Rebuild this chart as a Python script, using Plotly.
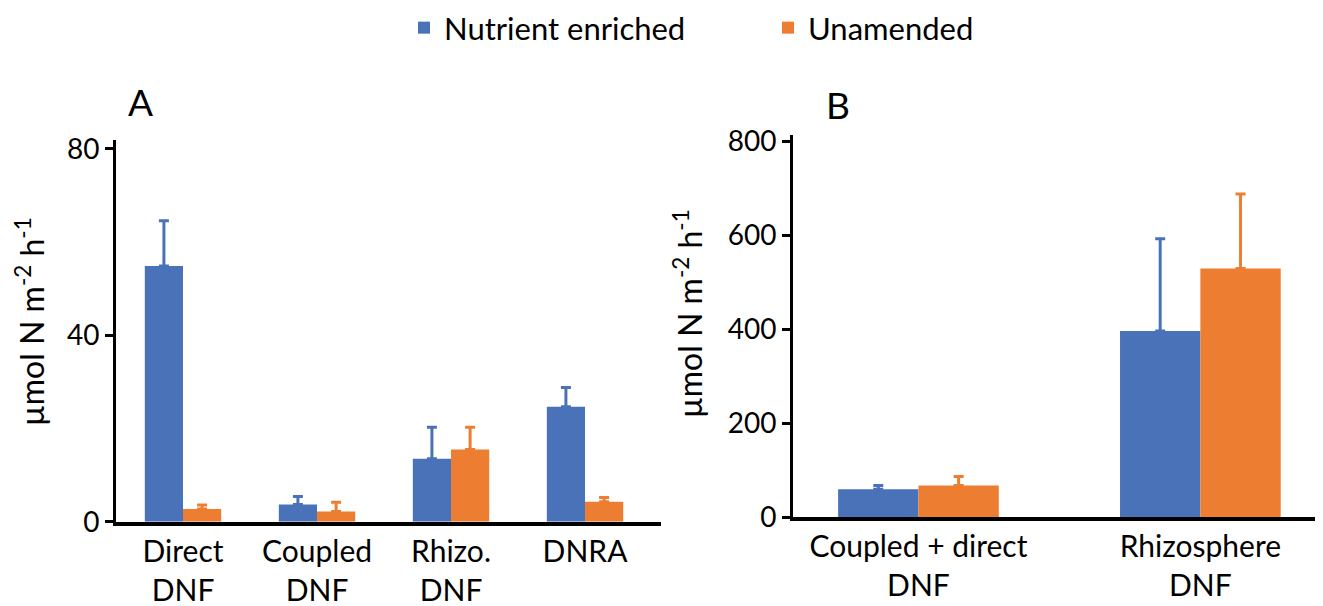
import plotly.graph_objects as go

# ---- data ----
cats_a = ["Direct<br>DNF", "Coupled<br>DNF", "Rhizo.<br>DNF", "DNRA"]
enriched_a = [54.9, 3.7, 13.5, 24.7]
enriched_a_err = [9.7, 1.7, 6.8, 4.1]
unamended_a = [2.7, 2.2, 15.5, 4.3]
unamended_a_err = [0.9, 2.0, 4.8, 0.9]

cats_b = ["Coupled + direct<br>DNF", "Rhizosphere<br>DNF"]
enriched_b = [59, 396]
enriched_b_err = [8, 196]
unamended_b = [67, 529]
unamended_b_err = [19, 158]

ticks_a = [0, 40, 80]
ticks_b = [0, 200, 400, 600, 800]

series_names = ["Nutrient enriched", "Unamended"]
ytitle = "µmol N m<sup>-2</sup> h<sup>-1</sup>"
panel_labels = ["A", "B"]

BLUE = "#4A72B8"
ORANGE = "#ED7D31"
FONT = "Lato"

# page body adds an 8px offset; the figure fills the rest of the 1323x606 view
OFF = 8
W, H = 1323 - OFF, 606 - OFF


def px_x(p):
    return (p - OFF) / W


def px_y(p):
    return 1 - (p - OFF) / H


def err(vals, col):
    return dict(type="data", array=vals, arrayminus=[0] * len(vals), symmetric=False,
                thickness=3, width=5, color=col)


fig = go.Figure()

for name, vals, errs, col in [
    (series_names[0], enriched_a, enriched_a_err, BLUE),
    (series_names[1], unamended_a, unamended_a_err, ORANGE),
]:
    fig.add_trace(go.Bar(x=cats_a, y=vals, name=name, legendgroup=name, showlegend=True,
                         marker=dict(color=col, line=dict(width=0)),
                         error_y=err(errs, col), xaxis="x", yaxis="y"))

for name, vals, errs, col in [
    (series_names[0], enriched_b, enriched_b_err, BLUE),
    (series_names[1], unamended_b, unamended_b_err, ORANGE),
]:
    fig.add_trace(go.Bar(x=cats_b, y=vals, name=name, legendgroup=name, showlegend=False,
                         marker=dict(color=col, line=dict(width=0)),
                         error_y=err(errs, col), xaxis="x2", yaxis="y2"))

common_x = dict(showline=True, linecolor="black", linewidth=4, ticks="", showgrid=False,
                zeroline=False, tickfont=dict(family=FONT, size=30, color="black"),
                type="category", fixedrange=True, automargin=False, ticklabelstandoff=0)
common_y = dict(showline=True, linecolor="black", linewidth=3, ticks="outside", ticklen=8,
                tickwidth=3, tickcolor="black", showgrid=False, zeroline=False,
                tickfont=dict(family=FONT, size=28, color="black"), fixedrange=True,
                automargin=False)

title_font = dict(family=FONT, size=32, color="black")
label_font = dict(family=FONT, size=37, color="black")

fig.update_layout(
    width=W, height=H,
    margin=dict(l=0, r=0, t=0, b=0, autoexpand=False),
    paper_bgcolor="white", plot_bgcolor="white",
    font=dict(family=FONT, color="black"),
    barmode="group", bargap=0.43, bargroupgap=0,
    xaxis=dict(domain=[px_x(116), px_x(661)], range=[-0.5, 3.567], anchor="y", **common_x),
    yaxis=dict(domain=[px_y(521.7), px_y(140)], range=[0, 81.93], tickvals=ticks_a,
               anchor="x", **common_y),
    xaxis2=dict(domain=[px_x(793), 1.0], range=[-0.445, 1.435], anchor="y2", **common_x),
    yaxis2=dict(domain=[px_y(517), px_y(135)], range=[0, 812.8], tickvals=ticks_b,
                anchor="x2", **common_y),
    legend=dict(orientation="h", x=px_x(404), xanchor="left", y=px_y(28), yanchor="middle",
                font=dict(family=FONT, size=31, color="black"), entrywidth=319,
                bgcolor="rgba(0,0,0,0)"),
    annotations=[
        dict(text=panel_labels[0], x=px_x(140), y=px_y(101), xref="paper", yref="paper",
             showarrow=False, font=label_font, xanchor="center", yanchor="middle"),
        dict(text=panel_labels[1], x=px_x(838), y=px_y(104), xref="paper", yref="paper",
             showarrow=False, font=label_font, xanchor="center", yanchor="middle"),
        # y-axis titles
        dict(text=ytitle, textangle=-90, x=px_x(30), y=px_y(322), xref="paper", yref="paper",
             showarrow=False, font=title_font, xanchor="center", yanchor="middle"),
        dict(text=ytitle, textangle=-90, x=px_x(688), y=px_y(314), xref="paper", yref="paper",
             showarrow=False, font=title_font, xanchor="center", yanchor="middle"),
    ],
)

fig.write_html("out.html")
